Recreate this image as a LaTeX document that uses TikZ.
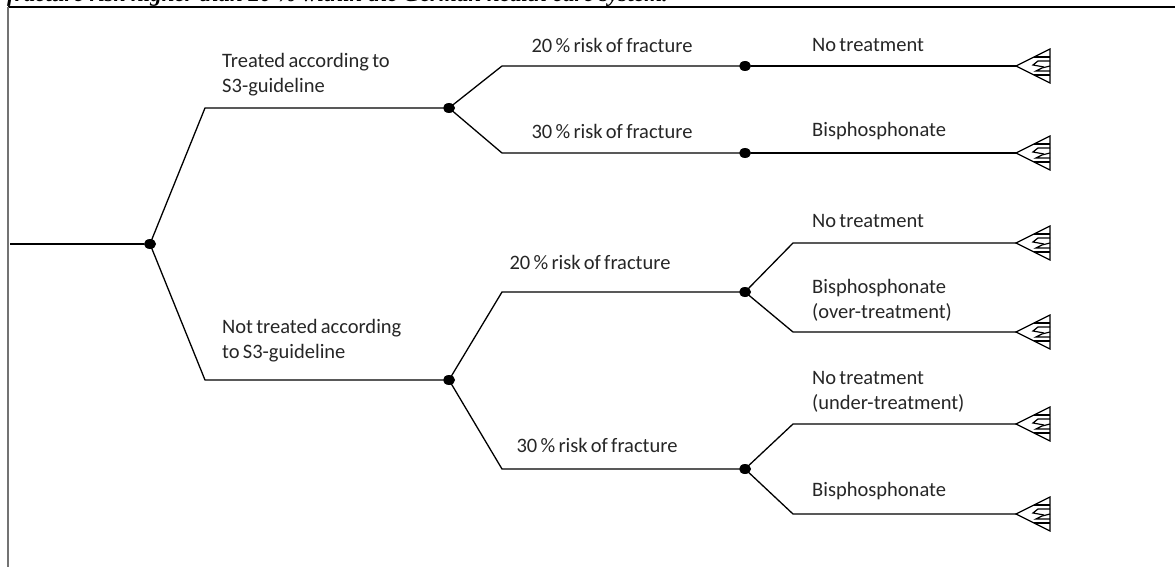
\documentclass[tikz,border=0pt]{standalone}
\usepackage{fontspec}
\setmainfont{Carlito}[WordSpace=0.7]
\newfontfamily\capfont{Liberation Serif}
\usetikzlibrary{shapes.geometric}
\begin{document}
\begin{tikzpicture}[x=1pt,y=-1pt,
  edge/.style={line width=1.3pt,black},
  chance/.style={ellipse,fill=black,inner sep=0pt,minimum width=12pt,minimum height=10pt},
  lbl/.style={font=\fontsize{20.5}{25}\selectfont,inner sep=0pt,align=left,text=black!85},
  clbl/.style={font=\fontsize{20.5}{25}\selectfont,inner sep=0pt,align=center,text=black!85},
  termline/.style={line width=1.2pt,black}
]
\useasboundingbox (0,0) rectangle (1175,567);
% caption fragment and frame
\node[anchor=base west,inner sep=0pt,font=\capfont\bfseries\itshape\fontsize{23}{26}\selectfont] (cap) at (7,2) {fracture risk higher than 20 \% within the German health care system.};
\coordinate (fTL) at (8,7);
\coordinate (fTR) at (1175,7);
\coordinate (fBL) at (8,567);
\draw[line width=1.3pt,black] (fTL) -- (fTR);
\draw[line width=1.6pt,black!55] (fTL) -- (fBL);

% root
\coordinate (start) at (10,244);
\node[chance] (n0) at (150,244) {};
\draw[edge] (start) -- (n0);

% level 1
\coordinate (a1) at (205,108);
\node[chance] (n1) at (449,108) {};
\coordinate (a2) at (205,380);
\node[chance] (n2) at (449,380) {};
\draw[edge] (n0.center) -- (a1) -- (n1);
\draw[edge] (n0.center) -- (a2) -- (n2);

% level 2 (top)
\coordinate (b1) at (502,66);
\node[chance] (n11) at (745,66) {};
\coordinate (b2) at (502,153);
\node[chance] (n12) at (745,153) {};
\draw[edge] (n1.center) -- (b1) -- (n11);
\draw[edge] (n1.center) -- (b2) -- (n12);

% level 2 (bottom)
\coordinate (b3) at (502,292);
\node[chance] (n21) at (745,292) {};
\coordinate (b4) at (502,469);
\node[chance] (n22) at (745,469) {};
\draw[edge] (n2.center) -- (b3) -- (n21);
\draw[edge] (n2.center) -- (b4) -- (n22);

% terminals
\foreach \name/\y in {t1/66,t2/153,t3/243,t4/332,t5/424,t6/514}{
  \coordinate (\name) at (1016,\y);
  \begin{scope}[shift={(1016,\y)}]
    \draw[termline,line join=miter] (0,0) -- (34,-17) -- (34,17) -- cycle;
    \draw[termline] (18,-9) -- (34,-9);
    \draw[termline] (18,9) -- (34,9);
    \draw[termline] (34,-5) -- (22,-5) -- (17,-1) -- (28,1);
    \draw[termline] (34,0) -- (26,2) -- (20,5) -- (34,5);
  \end{scope}
}
\draw[edge] (n11) -- (t1);
\draw[edge] (n12) -- (t2);
\coordinate (c1) at (793,243);
\coordinate (c2) at (793,332);
\coordinate (c3) at (793,424);
\coordinate (c4) at (793,514);
\draw[edge] (n21.center) -- (c1) -- (t3);
\draw[edge] (n21.center) -- (c2) -- (t4);
\draw[edge] (n22.center) -- (c3) -- (t5);
\draw[edge] (n22.center) -- (c4) -- (t6);

% labels
\node[lbl,anchor=west] (l1) at (222,75) {Treated according to\\S3-guideline};
\node[lbl,anchor=west] (l2) at (222,341) {Not treated according\\to S3-guideline};
\node[clbl] (l11) at (612,45) {20 \% risk of fracture};
\node[clbl] (l12) at (612,131) {30 \% risk of fracture};
\node[clbl] (l21) at (590,262) {20 \% risk of fracture};
\node[clbl] (l22) at (597,445) {30 \% risk of fracture};
\node[lbl,anchor=west] (m1) at (812,45) {No treatment};
\node[lbl,anchor=west] (m2) at (812,131) {Bisphosphonate};
\node[lbl,anchor=west] (m3) at (812,221) {No treatment};
\node[lbl,anchor=west] (m4) at (812,300) {Bisphosphonate\\(over-treatment)};
\node[lbl,anchor=west] (m5) at (812,392) {No treatment\\(under-treatment)};
\node[lbl,anchor=west] (m6) at (812,491) {Bisphosphonate};
\end{tikzpicture}
\end{document}
